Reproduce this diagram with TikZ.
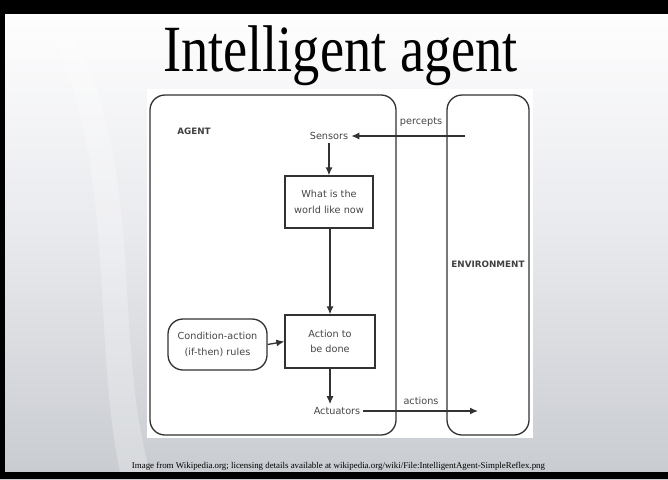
\documentclass[tikz,border=0pt]{standalone}
\usepackage{fontspec}
\setmainfont{Liberation Serif}
\newfontfamily\diafont{DejaVu Sans}
\usetikzlibrary{arrows.meta}
\definecolor{linec}{RGB}{50,50,50}
\definecolor{textc}{RGB}{70,70,70}
\definecolor{slidebot}{RGB}{200,203,208}
\definecolor{slidemid}{RGB}{232,233,237}
\begin{document}
\begin{tikzpicture}[x=1pt,y=-1pt,
  lbl/.style={font=\diafont\fontsize{9.7}{15.5}\selectfont, text=textc, inner sep=1pt, align=center},
  bold lbl/.style={font=\diafont\bfseries\fontsize{8.8}{12}\selectfont, text=black!75, inner sep=0pt},
  box/.style={draw=linec, line width=1.3pt, minimum width=88pt, minimum height=52pt, inner sep=0pt, align=center, font=\diafont\fontsize{9.7}{15.5}\selectfont, text=textc},
  frame/.style={draw=linec, line width=1.3pt, rounded corners=15pt},
  arr/.style={draw=linec, line width=1.3pt, -{Latex[length=8pt,width=7pt]}}]
\useasboundingbox (0,0) rectangle (668,479);
% slide background
\shade[top color=white, bottom color=slidebot, middle color=slidemid] (0,0) rectangle (668,479);
\fill[white, opacity=0.25] (60,14) .. controls (150,150) and (110,330) .. (150,472) -- (120,472) .. controls (90,330) and (120,150) .. (40,14) -- cycle;
% black borders
\fill[black] (0,0) rectangle (668,14);
\fill[black] (0,472) rectangle (668,479);
\fill[black] (0,0) rectangle (5,479);
% title
\node[anchor=base, inner sep=0pt] (title) at (340.5,71) {\scalebox{0.824}[1]{\fontsize{66}{70}\selectfont Intelligent agent}};
% diagram background
\fill[white] (147,89) rectangle (533,438);
% frames
\draw[frame] (150,95) rectangle (396,435);
\draw[frame] (447,95) rectangle (529,435);
\node[bold lbl] (agentlbl) at (194,131) {AGENT};
\node[bold lbl] (envlbl) at (488,264) {ENVIRONMENT};
% nodes
\node[lbl, inner sep=3pt] (sensors) at (329,136) {Sensors};
\node[box] (world) at (329,202) {What is the\\world like now};
\node[box, minimum width=90pt, minimum height=53pt] (action) at (330,341.5) {Action to\\be done};
\node[box, rounded corners=15pt, minimum width=99pt, minimum height=51pt] (rules) at (217.5,344.5) {Condition-action\\(if-then) rules};
\node[lbl, inner sep=3pt] (actuators) at (337,411) {Actuators};
\coordinate (penv) at (465,136);
\coordinate (aenv) at (478,411);
% connectors
\draw[arr] (penv) -- (sensors.east);
\node[lbl] (percepts) at (421,122) {percepts};
\draw[arr] (sensors.south) -- (sensors.south |- world.north);
\draw[arr] (world.south -| action.north) -- (action.north);
\draw[arr] (rules.east) -- (action.west);
\draw[arr] (action.south) -- (action.south |- actuators.north);
\draw[arr] (actuators.east) -- (aenv);
\node[lbl] (actions) at (421,401) {actions};
% caption
\node[anchor=center, inner sep=0pt, text=black] (caption) at (338.5,466) {\resizebox{413pt}{!}{\fontsize{8}{9}\selectfont Image from Wikipedia.org; licensing details available at wikipedia.org/wiki/File:IntelligentAgent-SimpleReflex.png}};
\end{tikzpicture}
\end{document}
